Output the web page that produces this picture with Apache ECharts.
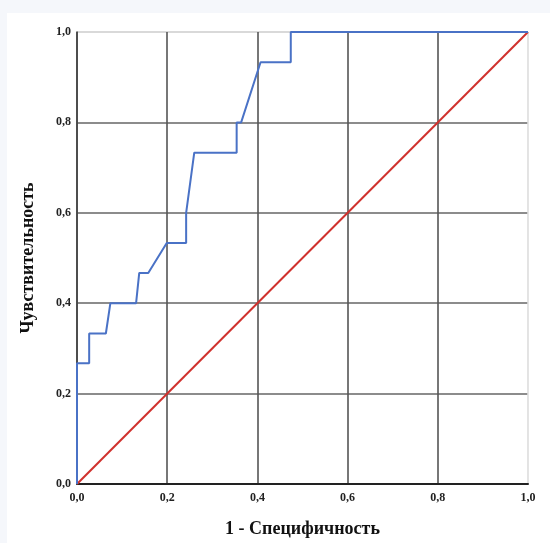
<!DOCTYPE html>
<html>
<head>
<meta charset="utf-8">
<script src="https://cdn.jsdelivr.net/npm/echarts@6/dist/echarts.min.js"></script>
<style>
html,body{margin:0;padding:0;background:#f5f7fb;}
#main{width:550px;height:543px;}
</style>
</head>
<body>
<div id="main"></div>
<script>
// ROC curve: 1 - specificity (x) vs sensitivity (y)
const fprValues = [0, 0, 0.027, 0.027, 0.064, 0.074, 0.131, 0.138, 0.158, 0.199, 0.242, 0.242, 0.260, 0.354, 0.354, 0.364, 0.407, 0.474, 0.474, 1.0];
const tprValues = [0, 0.267, 0.267, 0.333, 0.333, 0.400, 0.400, 0.467, 0.467, 0.533, 0.533, 0.600, 0.733, 0.733, 0.800, 0.800, 0.933, 0.933, 1.0, 1.0];
const refX = [0, 1];
const refY = [0, 1];
const tickValues = [0, 0.2, 0.4, 0.6, 0.8, 1.0];
const xTitle = '1 - Специфичность';
const yTitle = 'Чувствительность';

const chart = echarts.init(document.getElementById('main'), null, {renderer: 'canvas'});
const fmt = v => v.toFixed(1).replace('.', ',');
const font = '"Liberation Serif", "DejaVu Serif", serif';

chart.setOption({
  backgroundColor: '#f5f7fb',
  animation: false,
  graphic: [{
    type: 'rect', z: -10, silent: true,
    shape: {x: 7, y: 13, width: 543, height: 530},
    style: {fill: '#ffffff'}
  }],
  grid: {left: 77, right: 22, top: 32, bottom: 59, show: false},
  xAxis: {
    type: 'value', min: 0, max: 1, interval: 0.2,
    name: xTitle, nameLocation: 'middle', nameGap: 36,
    nameTextStyle: {fontFamily: font, fontWeight: 'bold', fontSize: 18, color: '#111'},
    axisLine: {show: true, onZero: false, lineStyle: {color: '#222', width: 2}},
    axisTick: {show: false},
    axisLabel: {formatter: fmt, fontFamily: font, fontWeight: 'bold', fontSize: 12, color: '#222', margin: 8},
    splitLine: {show: true, lineStyle: {color: ['#555', '#555', '#555', '#555', '#555', '#dddddd'], width: 1.6}}
  },
  yAxis: {
    type: 'value', min: 0, max: 1, interval: 0.2,
    name: yTitle, nameLocation: 'middle', nameGap: 40, nameRotate: 90,
    nameTextStyle: {fontFamily: font, fontWeight: 'bold', fontSize: 18, color: '#111'},
    axisLine: {show: true, onZero: false, lineStyle: {color: '#444', width: 1.6}},
    axisTick: {show: false},
    axisLabel: {formatter: fmt, fontFamily: font, fontWeight: 'bold', fontSize: 12, color: '#222', margin: 6},
    splitLine: {show: true, lineStyle: {color: ['#666', '#666', '#666', '#666', '#666', '#cccccc'], width: 1.6}}
  },
  series: [
    {
      type: 'line', name: 'ref', showSymbol: false, z: 3,
      data: refX.map((x, i) => [x, refY[i]]),
      lineStyle: {color: '#d0312d', width: 2}
    },
    {
      type: 'line', name: 'roc', showSymbol: false, z: 4,
      data: fprValues.map((x, i) => [x, tprValues[i]]),
      lineStyle: {color: '#4a72c6', width: 2}
    }
  ]
});
</script>
</body>
</html>
